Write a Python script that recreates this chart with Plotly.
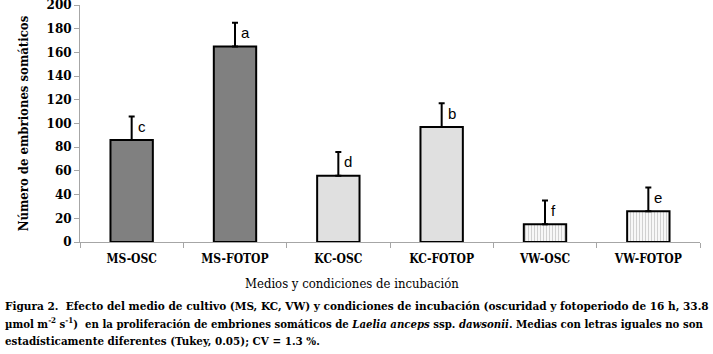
import plotly.graph_objects as go

categories = ["MS-OSC", "MS-FOTOP", "KC-OSC", "KC-FOTOP", "VW-OSC", "VW-FOTOP"]
means = [86, 165, 56, 97, 15, 26]
errors = [20, 20, 20, 20, 20, 20]
letters = ["c", "a", "d", "b", "f", "e"]
y_ticks = [0, 20, 40, 60, 80, 100, 120, 140, 160, 180, 200]

fill_colors = ["#808080", "#808080", "#e0e0e0", "#e0e0e0", "#d0d0d0", "#d0d0d0"]
pattern_shapes = ["", "", "", "", "|", "|"]

serif = "DejaVu Serif Condensed"
sans = "Liberation Sans"

fig = go.Figure()
fig.add_trace(go.Bar(
    x=categories, y=means, width=0.41,
    marker=dict(
        color=fill_colors,
        line=dict(color="black", width=2),
        pattern=dict(shape=pattern_shapes, fgcolor="#858585", bgcolor=fill_colors,
                     size=3, solidity=0.45, fillmode="replace"),
    ),
    error_y=dict(type="data", symmetric=False, array=errors, arrayminus=[0]*len(errors),
                 color="black", thickness=2, width=3),
    showlegend=False,
))

for c, m, e, l in zip(categories, means, errors, letters):
    fig.add_annotation(x=c, y=m + e, text=l, showarrow=False, xanchor="left", yanchor="middle",
                       xshift=4, yshift=-10,
                       font=dict(family=sans, size=15, color="black"))

fig.update_layout(
    width=713, height=354,
    margin=dict(l=80, r=13, t=5, b=112),
    paper_bgcolor="white", plot_bgcolor="white",
    xaxis=dict(
        automargin=False,
        showline=True, linecolor="#a6a6a6", linewidth=1,
        ticks="outside", tickson="boundaries", ticklen=5, tickcolor="#a6a6a6",
        tickvals=categories, ticktext=["<b>" + c + "</b>" for c in categories],
        ticklabelstandoff=6,
        tickfont=dict(family=serif, size=12, color="black"),
        showgrid=False,
    ),
    yaxis=dict(
        automargin=False, ticklabeloverflow="allow",
        range=[0, 200], tickvals=y_ticks, ticktext=["<b>%d</b>" % v for v in y_ticks],
        showline=True, linecolor="#a6a6a6", linewidth=1,
        ticks="outside", ticklen=5, tickcolor="#a6a6a6",
        tickfont=dict(family="DejaVu Serif", size=12, color="black"),
        title=dict(text="<b>Número de embriones somáticos</b>", standoff=14,
                   font=dict(family=serif, size=13, color="black")),
        showgrid=False, zeroline=False,
    ),
)

# x-axis title (offset left of plot centre, as in the reference)
fig.add_annotation(xref="paper", yref="paper", x=(352 - 80) / 620, y=(242 - 283) / 237,
                   text="Medios y condiciones de incubación", showarrow=False,
                   xanchor="center", yanchor="middle",
                   font=dict(family=serif, size=13, color="black"))

caption_lines = [
    "<b>Figura 2.  Efecto del medio de cultivo (MS, KC, VW) y condiciones de incubación (oscuridad y fotoperiodo de 16 h, 33.8</b>",
    "<b>µmol m<sup>-2</sup> s<sup>-1</sup>)  en la proliferación de embriones somáticos de <i>Laelia anceps</i> ssp. <i>dawsonii</i>. Medias con letras iguales no son</b>",
    "<b>estadísticamente diferentes (Tukey, 0.05); CV = 1.3 %.</b>",
]
caption_y = [306, 323, 341]
caption_sizes = [11.7, 11.3, 11.5]
for txt, py, fs in zip(caption_lines, caption_y, caption_sizes):
    fig.add_annotation(xref="paper", yref="paper", x=-77/620, y=(242 - py) / 237,
                       text=txt, showarrow=False, xanchor="left", yanchor="middle",
                       font=dict(family=serif, size=fs, color="black"))

fig.write_html("out.html", post_script="document.body.style.margin='0';",
               config={"displayModeBar": False})
